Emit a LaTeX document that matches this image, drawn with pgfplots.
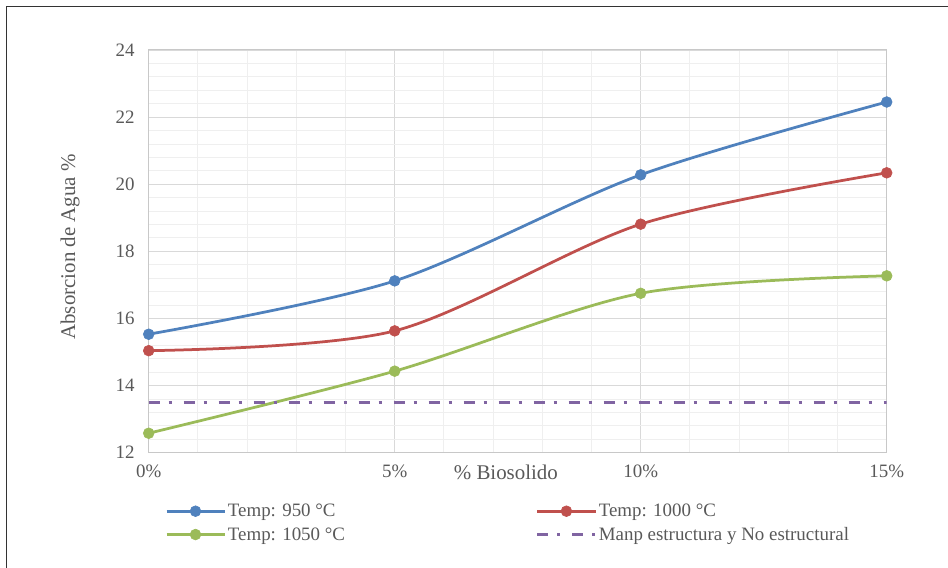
\documentclass[border=0pt]{standalone}
\usepackage{pgfplots}
\pgfplotsset{compat=1.18}
\usepackage{fontspec}
\setmainfont{Liberation Serif}
\definecolor{cblue}{HTML}{4F81BD}
\definecolor{cred}{HTML}{C0504D}
\definecolor{cgreen}{HTML}{9BBB59}
\definecolor{cpurple}{HTML}{8064A2}
\definecolor{txt}{HTML}{595959}
\definecolor{gmaj}{HTML}{D9D9D9}
\definecolor{gmin}{HTML}{EFEFEF}
\definecolor{axl}{HTML}{C8C8C8}
\begin{document}
\begin{tikzpicture}[x=1bp,y=1bp]
\useasboundingbox (0,0) rectangle (948,568);
\draw[line width=1.5bp, black!80] (6.5,0) -- (6.5,561.5) -- (948,561.5);
\begin{axis}[
  at={(148.7bp,115.3bp)}, anchor=south west,
  scale only axis, width=738bp, height=402.7bp,
  xmin=0, xmax=15, ymin=12, ymax=24,
  xtick={0,5,10,15}, xticklabels={0\%,5\%,10\%,15\%},
  ytick={12,14,...,24},
  minor x tick num=4, minor y tick num=4,
  grid=both,
  major grid style={gmaj, line width=0.9bp},
  minor grid style={gmin, line width=0.9bp},
  major tick length=0, minor tick length=0,
  axis line style={axl, line width=1bp},
  /pgf/number format/assume math mode=true,
  ticklabel style={font=\fontsize{19}{22}\selectfont, text=txt},
  xticklabel style={yshift=-9bp},
  yticklabel style={xshift=-10.7bp},
  xlabel={\% Biosolido},
  ylabel={Absorcion de Agua \%},
  every axis x label/.style={at={(axis description cs:0.484,-0.05)}, anchor=center,
    font=\fontsize{21}{24}\selectfont, text=txt},
  every axis y label/.style={at={(axis description cs:-0.1066,0.511)}, rotate=90, anchor=center,
    font=\fontsize{21}{24}\selectfont, text=txt},
  legend columns=2,
  legend cell align=left,
  legend style={at={(axis description cs:0.022,-0.1746)}, anchor=west, draw=none, fill=none,
    font=\fontsize{19}{22}\selectfont, text=txt, inner sep=0pt,
    /tikz/every even column/.append style={column sep=189bp}, row sep=5bp},
  legend image code/.code={\draw[mark repeat=2,mark phase=2] plot coordinates {(0bp,0bp) (29bp,0bp) (58bp,0bp)};},
]
\addplot[cblue, line width=2.75bp, smooth, mark=*, mark size=5.4bp, mark options={solid, fill=cblue, line width=0.6bp}]
  coordinates {(0,15.53) (5,17.12) (10,20.28) (15,22.45)};
\addlegendentry{Temp: 950 °C}
\addplot[cred, line width=2.75bp, smooth, mark=*, mark size=5.4bp, mark options={solid, fill=cred, line width=0.6bp}]
  coordinates {(0,15.04) (5,15.63) (10,18.81) (15,20.34)};
\addlegendentry{Temp: 1000 °C}
\addplot[cgreen, line width=2.75bp, smooth, mark=*, mark size=5.4bp, mark options={solid, fill=cgreen, line width=0.6bp}]
  coordinates {(0,12.58) (5,14.43) (10,16.75) (15,17.27)};
\addlegendentry{Temp: 1050 °C}
\addplot[cpurple, line width=2.75bp, dash pattern=on 11bp off 9bp on 3bp off 12bp, mark=none]
  coordinates {(0,13.5) (15,13.5)};
\addlegendentry{Manp estructura y No estructural}
\end{axis}
\end{tikzpicture}
\end{document}
